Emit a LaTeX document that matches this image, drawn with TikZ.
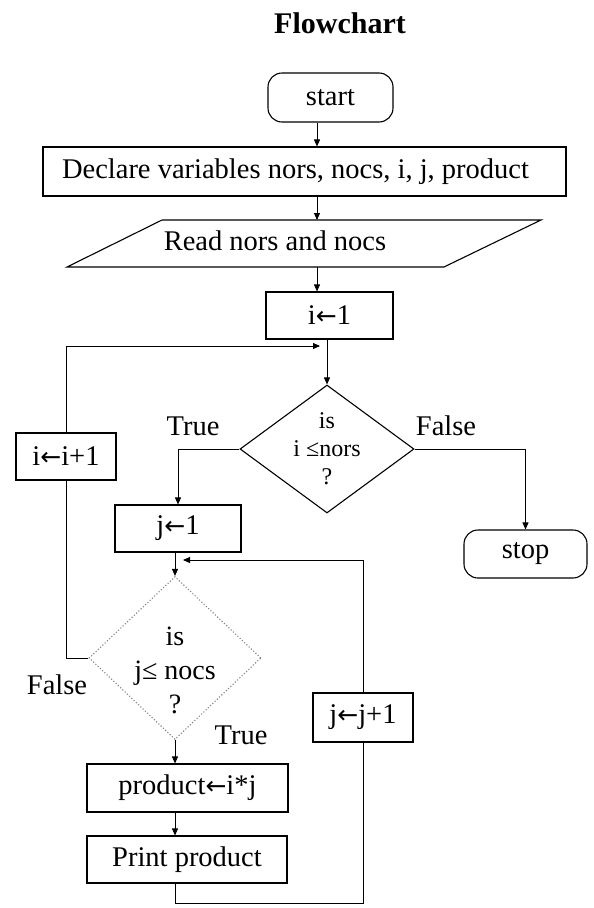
\documentclass[tikz,border=0pt]{standalone}
\usepackage{fontspec}
\setmainfont{Liberation Serif}
\newfontfamily\arrowglyphfont{DejaVu Sans}
\newcommand\getsarrow{{\arrowglyphfont\fontsize{25}{28}\selectfont ←}}
\usetikzlibrary{shapes.geometric,arrows.meta,calc}
\begin{document}
\begin{tikzpicture}[x=1pt,y=-1pt,
  every node/.style={font=\fontsize{28.5}{32}\selectfont, inner sep=0pt},
  flow/.style={draw=black, line width=1.1pt},
  proc/.style={flow, rectangle},
  term/.style={flow, rectangle, rounded corners=14pt},
  cond/.style={flow, diamond, inner sep=0pt},
  line/.style={draw=black, line width=0.9pt},
  arr/.style={line, -{Triangle[length=7pt,width=6pt]}},
]
\useasboundingbox (0,0) rectangle (594,908);

% title
\node[font=\bfseries\fontsize{30}{34}\selectfont] (title) at (340,23) {Flowchart};

% main column
\node[term, minimum width=125pt, minimum height=49pt] (start) at (330.5,97.5) {start};
\node[proc, minimum width=523pt, minimum height=49pt] (decl) at (304.5,171.5)
  {\hspace*{-18pt}Declare variables nors, nocs, i, j, product};

% input parallelogram
\coordinate (rtl) at (162,220);
\coordinate (rtr) at (541,220);
\coordinate (rbr) at (444,267);
\coordinate (rbl) at (67,267);
\draw[flow] (rtl) -- (rtr) -- (rbr) -- (rbl) -- cycle;
\node (read) at (275,241) {Read nors and nocs};

\node[proc, minimum width=127pt, minimum height=47pt] (i1) at (329.5,315.5) {i\getsarrow 1};

% outer test
\node[cond, minimum width=174pt, minimum height=128pt] (d1) at (327,449) {};
\node[align=center, font=\fontsize{24}{28}\selectfont] (d1t) at (d1.center) {is\\i ≤nors\\?};

\node[proc, minimum width=100pt, minimum height=47pt] (inc) at (66,456.5) {i\getsarrow i+1};
\node[proc, minimum width=126pt, minimum height=47pt] (j1) at (178,528.5) {j\getsarrow 1};
\node[term, minimum width=123pt, minimum height=48pt] (stop) at (525.5,554) {stop};

% inner test
\node[cond, draw=gray, dotted, minimum width=172pt, minimum height=163pt] (d2) at (175,658) {};
\node[align=center, font=\fontsize{28}{34}\selectfont] (d2t) at (175,670) {is\\j≤ nocs\\?};

\node[proc, minimum width=100pt, minimum height=49pt] (jinc) at (363,717.5) {j\getsarrow j+1};
\node[proc, minimum width=201pt, minimum height=48pt] (prod) at (187.5,788) {product\getsarrow i*j};
\node[proc, minimum width=200pt, minimum height=47pt] (print) at (187,859.5) {Print product};

% branch labels
\node (lt1) at (193,426) {True};
\node (lf1) at (446,426) {False};
\node (lf2) at (57,685) {False};
\node (lt2) at (241,735) {True};

% connectors
\coordinate (spine) at (317,0);
\coordinate (m1) at (320,346);
\coordinate (m2) at (183,560);
\coordinate (loopbot) at (0,903);

\draw[arr] (start.south -| spine) -- (decl.north -| spine);
\draw[arr] (decl.south -| spine) -- (rtl -| spine);
\draw[arr] (rbl -| spine) -- (i1.north -| spine);
\draw[arr] (i1.south -| d1.north) -- (d1.north);
\draw[arr] (inc.north) |- (m1);
\draw[arr] (d1.west) -| (j1.north);
\draw[arr] (d1.east) -| (stop.north);
\draw[arr] (j1.south -| d2.north) -- (d2.north);
\draw[arr] (jinc.north) |- (m2);
\draw[line] (d2.west) -| (inc.south);
\draw[arr] (d2.south) -- (d2.south |- prod.north);
\draw[arr] (prod.south -| d2.south) -- (print.north -| d2.south);
\draw[line] (print.south -| d2.south) |- (jinc.south |- loopbot) -- (jinc.south);
\end{tikzpicture}
\end{document}
